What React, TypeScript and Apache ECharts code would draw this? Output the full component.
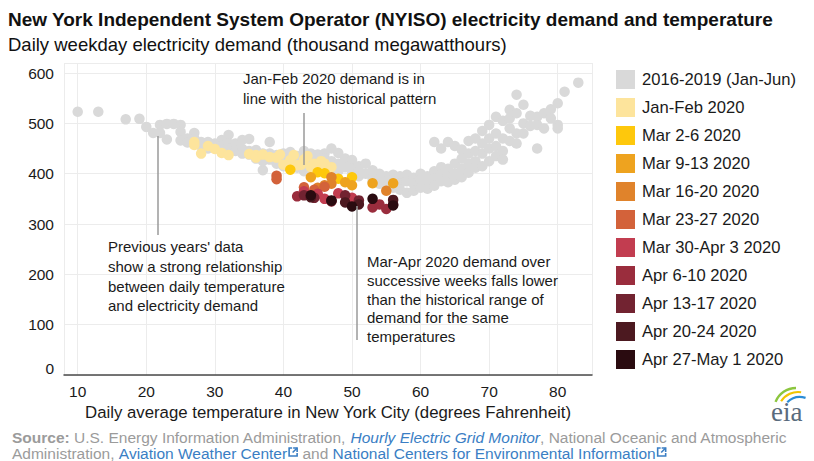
import React, { useEffect, useRef } from "react";
import * as echarts from "echarts";

// Daily weekday demand (thousand MWh) vs. daily average NYC temperature (°F)
const historical: [number, number][] = [
  [10, 523], [13, 523], [17, 508], [19, 509], [20, 493], [21, 481], [22, 497], [22, 481],
  [23, 499], [23, 468], [24, 499], [25, 497], [25, 483], [25, 466], [26, 470], [26, 462],
  [27, 481], [27, 470], [28, 463], [28, 455], [29, 463], [29, 450], [30, 460], [30, 452],
  [31, 467], [31, 455], [32, 477], [32, 460], [32, 450], [33, 460], [33, 445], [34, 467],
  [34, 449], [34, 440], [35, 469], [35, 445], [35, 438], [36, 447], [36, 430], [37, 440],
  [37, 407], [37, 425], [38, 463], [38, 440], [38, 428], [39, 437], [39, 420], [40, 430],
  [40, 440], [40, 415], [41, 443], [41, 425], [42, 435], [42, 412], [43, 445], [43, 420],
  [43, 405], [44, 440], [44, 425], [44, 410], [45, 438], [45, 420], [46, 440], [46, 430],
  [47, 450], [47, 425], [47, 410], [48, 441], [48, 420], [48, 405], [49, 430], [49, 413],
  [50, 427], [50, 410], [50, 400], [51, 415], [51, 405], [51, 395], [52, 420], [52, 400],
  [53, 407], [53, 392], [53, 385], [54, 400], [54, 390], [54, 380], [55, 395], [55, 385],
  [55, 375], [56, 398], [56, 388], [56, 372], [57, 395], [57, 380], [57, 368], [58, 398],
  [58, 385], [58, 362], [59, 392], [59, 380], [59, 366], [60, 400], [60, 388], [60, 372],
  [61, 395], [61, 385], [61, 370], [62, 463], [62, 405], [62, 390], [62, 376], [63, 450],
  [63, 413], [63, 398], [63, 385], [64, 463], [64, 410], [64, 395], [64, 383], [65, 455],
  [65, 420], [65, 400], [65, 388], [66, 448], [66, 430], [66, 410], [66, 393], [67, 465],
  [67, 440], [67, 420], [67, 402], [68, 470], [68, 445], [68, 425], [68, 412], [69, 485],
  [69, 460], [69, 440], [69, 415], [70, 497], [70, 470], [70, 450], [70, 425], [71, 513],
  [71, 480], [71, 455], [71, 435], [72, 505], [72, 470], [72, 445], [72, 428], [73, 527],
  [73, 510], [73, 490], [73, 465], [74, 557], [74, 520], [74, 480], [74, 460], [75, 537],
  [75, 500], [75, 480], [76, 515], [76, 495], [77, 513], [77, 497], [77, 450], [78, 520],
  [78, 490], [79, 528], [79, 510], [80, 540], [80, 497], [80, 490], [81, 563], [83, 581],
];

const janFeb2020: [number, number][] = [
  [27, 463], [27, 457], [28, 440], [29, 455], [30, 449], [31, 441], [32, 437], [35, 439],
  [36, 437], [36, 432], [37, 438], [38, 433], [39, 432], [39.5, 438], [40, 418], [41, 427],
  [41.5, 437], [42, 417], [42.6, 418], [43, 428], [43.5, 435], [44, 413], [44.5, 420],
  [44.7, 403], [45, 417], [45.5, 425], [46, 420], [47, 413],
];
const mar2to6: [number, number][] = [[41, 408], [45, 403], [48, 390], [50, 393], [46, 401]];
const mar9to13: [number, number][] = [[44, 393], [49, 383], [50, 377], [53, 381], [56, 381]];
const mar16to20: [number, number][] = [[45, 372], [46, 377], [47, 393], [47, 380], [55, 366]];
const mar23to27: [number, number][] = [[39, 396], [39, 389], [43, 373], [44.5, 368], [46, 374]];
const mar30toApr3: [number, number][] = [[43, 365], [45, 360], [46, 350], [50, 352], [48, 361]];
const apr6to10: [number, number][] = [[53, 333], [55, 330], [54, 339], [47, 345], [42, 355]];
const apr13to17: [number, number][] = [[43, 357], [49, 357], [56, 339], [51, 347], [44.5, 352]];
const apr20to24: [number, number][] = [[44, 353], [49, 343], [56, 348], [47, 346], [51, 339]];
const apr27toMay1: [number, number][] = [[44, 357], [47, 347], [50, 335], [53, 350], [56, 337]];

const seriesNames = [
  "2016-2019 (Jan-Jun)", "Jan-Feb 2020", "Mar 2-6 2020", "Mar 9-13 2020", "Mar 16-20 2020",
  "Mar 23-27 2020", "Mar 30-Apr 3 2020", "Apr 6-10 2020", "Apr 13-17 2020", "Apr 20-24 2020",
  "Apr 27-May 1 2020",
];
const seriesData = [
  historical, janFeb2020, mar2to6, mar9to13, mar16to20, mar23to27, mar30toApr3,
  apr6to10, apr13to17, apr20to24, apr27toMay1,
];
const seriesColors = [
  "#d9d9d9", "#fde49c", "#fec80c", "#eea31f", "#e0832b", "#d3623a", "#c23d50",
  "#9a2d3d", "#722331", "#4c1920", "#2a0b10",
];

const FONT = "'Liberation Sans', Arial, sans-serif";
const TEXT = "#1a1a1a";
const GRAY = "#9b9b9b";
const LINK = "#3a7ec4";

function measure(text: string, font: string): number {
  const ctx = document.createElement("canvas").getContext("2d");
  if (!ctx) return text.length * 7;
  ctx.font = font;
  return ctx.measureText(text).width;
}

function linkIcon(x: number, y: number) {
  const s = { stroke: LINK, lineWidth: 1.6, fill: "none" as any };
  return [
    { type: "polyline", shape: { points: [[x + 4, y + 1], [x + 1, y + 1], [x + 1, y + 9], [x + 9, y + 9], [x + 9, y + 6]] }, style: s },
    { type: "polyline", shape: { points: [[x + 5, y + 1], [x + 9, y + 1], [x + 9, y + 5]] }, style: s },
    { type: "line", shape: { x1: x + 9, y1: y + 1, x2: x + 4.5, y2: y + 5.5 }, style: s },
  ];
}

export default function App() {
  const ref = useRef<HTMLDivElement>(null);

  useEffect(() => {
    if (!ref.current) return;
    const chart = echarts.init(ref.current, null, { renderer: "svg" });

    const fpx = 15.5;
    const footFont = `${fpx}px ${FONT}`;
    const l2a = "Administration, ";
    const l2b = "Aviation Weather Center";
    const l2c = " and ";
    const l2d = "National Centers for Environmental Information";
    const x0 = 12;
    const wA = measure(l2a, footFont);
    const wB = measure(l2b, footFont);
    const wC = measure(l2c, footFont);
    const wD = measure(l2d, footFont);
    const icon1 = x0 + wA + wB + 1;
    const xC = icon1 + 10;
    const xD = xC + wC;
    const icon2 = xD + wD + 1;

    const annText = { fontSize: 15, fontFamily: FONT, fill: TEXT };
    const leader = { stroke: "#9a9a9a", lineWidth: 1.5 };

    chart.setOption({
      animation: false,
      backgroundColor: "#ffffff",
      textStyle: { fontFamily: FONT },
      grid: { left: 64, right: 222, top: 63, bottom: 86, containLabel: false },
      xAxis: {
        type: "value",
        min: 8,
        max: 85,
        splitNumber: 8,
        name: "Daily average temperature in New York City (degrees Fahrenheit)",
        nameLocation: "middle",
        nameGap: 28,
        nameTextStyle: { fontSize: 16.8, color: TEXT, fontFamily: FONT },
        axisLine: { show: true, lineStyle: { color: "#4a4a4a", width: 1.5 } },
        axisTick: { show: false },
        axisLabel: {
          fontSize: 15.5, color: TEXT, margin: 8,
          formatter: (v: number) => (v % 10 === 0 ? String(v) : ""),
        },
        splitLine: { show: true, lineStyle: { color: "#ececec", width: 1 } },
      },
      yAxis: {
        type: "value",
        min: 0,
        max: 620,
        interval: 100,
        axisLine: { show: false },
        axisTick: { show: false },
        axisLabel: {
          fontSize: 15.5, color: TEXT, margin: 10,
          // the zero label sits a little above the baseline
          formatter: (v: number) => (v === 0 ? "{z|0}" : v <= 600 ? String(v) : ""),
          rich: { z: { fontSize: 15.5, color: TEXT, fontFamily: FONT, padding: [0, 0, 14, 0] } },
        },
        splitLine: { show: true, lineStyle: { color: "#ececec", width: 1 } },
      },
      legend: {
        orient: "vertical",
        left: 616,
        top: 70,
        padding: 0,
        icon: "rect",
        itemWidth: 19,
        itemHeight: 19,
        itemGap: 9,
        textStyle: { fontSize: 16.6, color: TEXT, fontFamily: FONT, padding: [0, 0, 0, 2] },
        data: seriesNames,
        selectedMode: false,
      },
      series: seriesNames.map((name, i) => ({
        name,
        type: "scatter",
        data: seriesData[i],
        symbol: "circle",
        symbolSize: 10.5,
        itemStyle: { color: seriesColors[i], opacity: 1 },
        z: 2 + i,
        silent: true,
      })),
      graphic: [
        {
          type: "text", left: 8, top: 10,
          style: {
            text: "New York Independent System Operator (NYISO) electricity demand and temperature",
            fontSize: 19, fontWeight: "bold", fontFamily: FONT, fill: "#111",
          },
        },
        {
          type: "text", left: 8, top: 35,
          style: {
            text: "Daily weekday electricity demand (thousand megawatthours)",
            fontSize: 18.5, fontFamily: FONT, fill: "#111",
          },
        },
        // Annotations with leader lines
        { type: "line", shape: { x1: 304, y1: 113, x2: 304, y2: 165 }, style: leader, z: 50 },
        { type: "line", shape: { x1: 158, y1: 136, x2: 158, y2: 235 }, style: leader, z: 50 },
        { type: "line", shape: { x1: 357, y1: 206, x2: 357, y2: 340 }, style: leader, z: 50 },
        {
          type: "text", x: 243, y: 68, z: 50,
          style: { ...annText, text: "Jan-Feb 2020 demand is in\nline with the historical pattern", lineHeight: 20 },
        },
        {
          type: "text", x: 108, y: 237, z: 50,
          style: {
            ...annText,
            text: "Previous years' data\nshow a strong relationship\nbetween daily temperature\nand electricity demand",
            lineHeight: 19.7,
          },
        },
        {
          type: "text", x: 367, y: 252, z: 50,
          style: {
            ...annText,
            text: "Mar-Apr 2020 demand over\nsuccessive weeks falls lower\nthan the historical range of\ndemand for the same\ntemperatures",
            lineHeight: 18.8,
          },
        },
        // Source line
        {
          type: "text", x: x0, y: 437,
          style: {
            text: "{b|Source:}{n| U.S. Energy Information Administration, }{i|Hourly Electric Grid Monitor}{n|, National Oceanic and Atmospheric}",
            verticalAlign: "middle",
            rich: {
              b: { fontSize: fpx, fontFamily: FONT, fontWeight: "bold", fill: GRAY },
              n: { fontSize: fpx, fontFamily: FONT, fill: GRAY },
              i: { fontSize: fpx, fontFamily: FONT, fontStyle: "italic", fill: LINK },
            },
          },
        },
        { type: "text", x: x0, y: 453, style: { text: l2a, font: footFont, fill: GRAY, verticalAlign: "middle" } },
        { type: "text", x: x0 + wA, y: 453, style: { text: l2b, font: footFont, fill: LINK, verticalAlign: "middle" } },
        ...linkIcon(icon1, 447),
        { type: "text", x: xC, y: 453, style: { text: l2c, font: footFont, fill: GRAY, verticalAlign: "middle" } },
        { type: "text", x: xD, y: 453, style: { text: l2d, font: footFont, fill: LINK, verticalAlign: "middle" } },
        ...linkIcon(icon2, 447),
        // eia mark
        {
          type: "arc", shape: { cx: 796, cy: 410, r: 22, startAngle: Math.PI * 1.12, endAngle: Math.PI * 1.5 },
          style: { stroke: "#8cc63f", lineWidth: 2.4, fill: "none" },
        },
        {
          type: "arc", shape: { cx: 798, cy: 412, r: 20, startAngle: Math.PI * 1.18, endAngle: Math.PI * 1.55 },
          style: { stroke: "#f2c500", lineWidth: 2.2, fill: "none" },
        },
        {
          type: "arc", shape: { cx: 800, cy: 415, r: 18, startAngle: Math.PI * 1.25, endAngle: Math.PI * 1.6 },
          style: { stroke: "#2b8cd6", lineWidth: 2.2, fill: "none" },
        },
        {
          type: "text", x: 771, y: 412,
          style: { text: "eia", fontSize: 27, fontFamily: "'Liberation Serif', serif", fill: "#5a6b7d", verticalAlign: "middle" },
        },
      ],
    });

    return () => chart.dispose();
  }, []);

  return <div ref={ref} style={{ width: 814, height: 461, position: "absolute", left: 0, top: 0 }} />;
}
